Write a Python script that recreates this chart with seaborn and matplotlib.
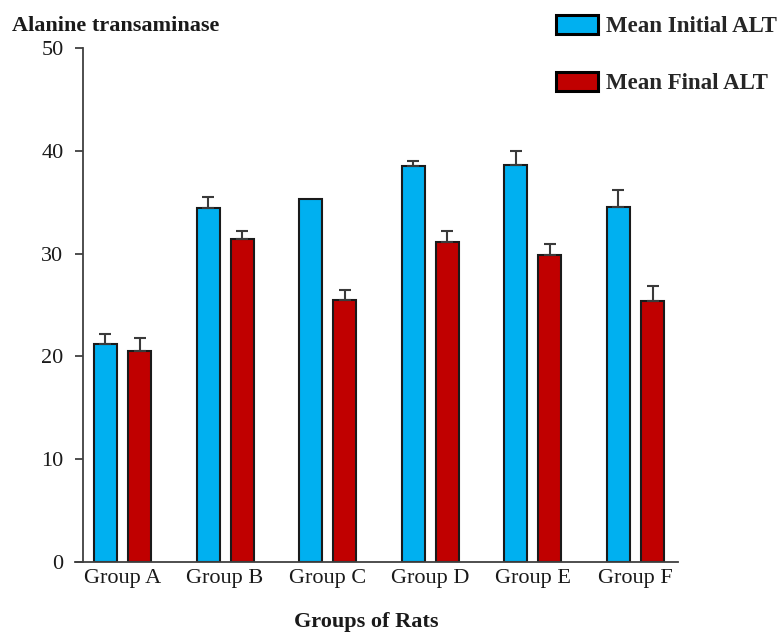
import numpy as np
import pandas as pd
import matplotlib
matplotlib.use("Agg")
import matplotlib.pyplot as plt
from matplotlib.patches import Patch
import seaborn as sns

# Mean ALT levels per group of rats, with upper error (SD)
groups = ["Group A", "Group B", "Group C", "Group D", "Group E", "Group F"]
initial_alt = [21.2, 34.4, 35.3, 38.5, 38.6, 34.5]
final_alt = [20.5, 31.4, 25.5, 31.1, 29.9, 25.4]
initial_err = [1.0, 1.1, np.nan, 0.5, 1.4, 1.7]
final_err = [1.3, 0.8, 1.0, 1.1, 1.0, 1.4]
series = ["Mean Initial ALT", "Mean Final ALT"]
yticks = [0, 10, 20, 30, 40, 50]

colors = ["#00B0F0", "#C00000"]

df = pd.DataFrame({
    "group": groups * 2,
    "value": initial_alt + final_alt,
    "err": initial_err + final_err,
    "series": [series[0]] * len(groups) + [series[1]] * len(groups),
})

sns.set_theme(style="white")
plt.rcParams["font.family"] = ["Liberation Serif", "DejaVu Serif"]

fig = plt.figure(figsize=(7.77, 6.34), dpi=100)
ax = fig.add_axes([75 / 777, 1 - 562 / 634, (678 - 75) / 777, (562 - 48) / 634])

sns.barplot(data=df, x="group", y="value", hue="series", order=groups,
            hue_order=series, palette=colors, saturation=1, errorbar=None,
            width=0.664, gap=0.325, edgecolor="#1a1a1a", linewidth=1.5,
            legend=False, ax=ax)

# one-sided error bars on top of each bar
for bars, s in zip(ax.containers, series):
    sub = df[df["series"] == s].set_index("group").loc[groups]
    for rect, (_, row) in zip(bars, sub.iterrows()):
        if np.isnan(row["err"]):
            continue
        xc = rect.get_x() + rect.get_width() / 2
        ax.errorbar(xc, rect.get_height(), yerr=[[0], [row["err"]]],
                    fmt="none", ecolor="#3a3a3a", elinewidth=1.5,
                    capsize=4.3, capthick=1.5, zorder=1)

ax.set_xlim(-0.463, 5.414)
ax.set_ylim(0, 50)
ax.set_yticks(yticks)
ax.set_yticklabels([str(t) for t in yticks])

for side in ["top", "right"]:
    ax.spines[side].set_visible(False)
ax.spines["left"].set_position(("data", -0.385))
for side in ["left", "bottom"]:
    ax.spines[side].set_color("#404040")
    ax.spines[side].set_linewidth(1.3)

ax.tick_params(axis="y", direction="out", length=6, width=1.3,
               color="#404040", pad=8, labelsize=16, labelcolor="#1a1a1a",
               left=True)
ax.tick_params(axis="x", length=0, pad=5, labelsize=16,
               labelcolor="#1a1a1a")

ax.set_ylabel("")
ax.set_xlabel("Groups of Rats", fontsize=16, fontweight="bold",
              color="#1a1a1a")
ax.xaxis.set_label_coords(0.4826, -0.0973)

fig.text(12 / 777, 1 - 26 / 634, "Alanine transaminase", fontsize=16,
         fontweight="bold", color="#1a1a1a", ha="left", va="center")

handles = [Patch(facecolor=c, edgecolor="black", linewidth=2.2) for c in colors]
ax.legend(handles, series, loc="upper left",
          bbox_to_anchor=(556 / 777, 1 - 15 / 634),
          bbox_transform=fig.transFigure, frameon=False,
          prop={"size": 16.5, "weight": "bold"},
          handlelength=1.85, handleheight=0.9, handletextpad=0.35,
          labelspacing=1.5, borderpad=0, borderaxespad=0)

fig.savefig("out.png", dpi=100)
